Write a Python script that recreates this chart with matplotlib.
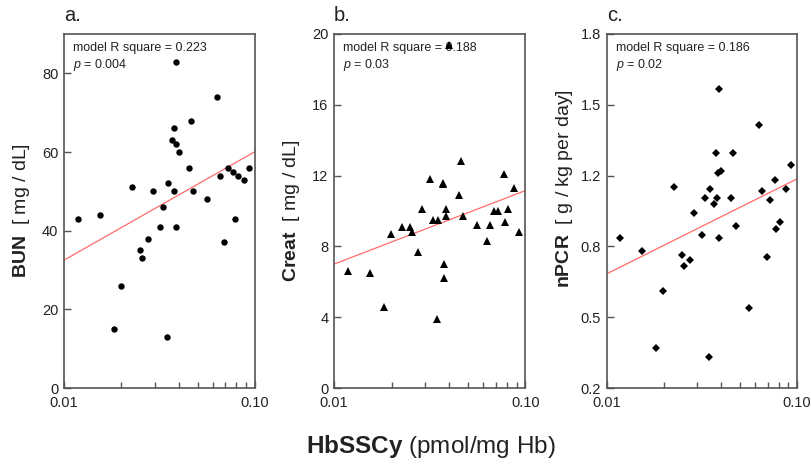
import numpy as np
import matplotlib
matplotlib.use("Agg")
import matplotlib.pyplot as plt
from matplotlib.ticker import FixedLocator, NullFormatter

plt.rcParams['font.family'] = ['Liberation Sans', 'DejaVu Sans']
plt.rcParams['mathtext.fontset'] = 'custom'
plt.rcParams['mathtext.rm'] = 'Liberation Sans'
plt.rcParams['mathtext.bf'] = 'Liberation Sans:bold'
plt.rcParams['mathtext.it'] = 'Liberation Sans:italic'

# ---------------- data ----------------
xa = [0.0118, 0.0154, 0.0226, 0.0291, 0.0352, 0.0330, 0.0375, 0.0369, 0.0385, 0.0387,
      0.0402, 0.0377, 0.0450, 0.0462, 0.0475, 0.0559, 0.0635, 0.0658, 0.0725, 0.0770,
      0.0812, 0.0876, 0.0934, 0.0783, 0.0319, 0.0387, 0.0274, 0.0251, 0.0255, 0.0691,
      0.0198, 0.0183, 0.0345]
ya = [43, 44, 51, 50, 52, 46, 66, 63, 62, 83,
      60, 50, 56, 68, 50, 48, 74, 54, 56, 55,
      54, 53, 56, 43, 41, 41, 38, 35, 33, 37,
      26, 15, 13]

xb = [0.0118, 0.0154, 0.0183, 0.0198, 0.0226, 0.0251, 0.0255, 0.0274, 0.0290, 0.0319,
      0.0329, 0.0344, 0.0351, 0.0370, 0.0373, 0.0377, 0.0377, 0.0386, 0.0386, 0.0450,
      0.0461, 0.0474, 0.0557, 0.0633, 0.0654, 0.0689, 0.0723, 0.0771, 0.0781, 0.0809,
      0.0870, 0.0924, 0.0399]
yb = [6.6, 6.5, 4.6, 8.7, 9.1, 9.1, 8.8, 7.7, 10.1, 11.8,
      9.5, 3.9, 9.5, 11.6, 11.5, 7.0, 6.2, 10.1, 9.7, 10.9,
      12.8, 9.7, 9.2, 8.3, 9.2, 10.0, 10.0, 12.1, 9.4, 10.1,
      11.3, 8.8, 19.4]

xc = [0.0117, 0.0153, 0.0182, 0.0198, 0.0226, 0.0250, 0.0255, 0.0273, 0.0289, 0.0318,
      0.0329, 0.0345, 0.0350, 0.0366, 0.0375, 0.0379, 0.0383, 0.0388, 0.0388, 0.0400,
      0.0450, 0.0461, 0.0478, 0.0558, 0.0632, 0.0657, 0.0693, 0.0721, 0.0769, 0.0778,
      0.0811, 0.0872, 0.0933]
yc = [0.88, 0.82, 0.38, 0.64, 1.11, 0.80, 0.75, 0.78, 0.99, 0.89,
      1.06, 0.34, 1.10, 1.03, 1.26, 1.06, 1.17, 1.55, 0.88, 1.18,
      1.06, 1.26, 0.93, 0.56, 1.39, 1.09, 0.79, 1.05, 1.14, 0.92,
      0.95, 1.10, 1.21]

fit_x = [0.01, 0.10]
fit_a = [32.5, 60.1]
fit_b = [7.0, 11.15]
fit_c = [0.716, 1.145]

yticks_a = [0, 20, 40, 60, 80]
yticks_b = [0, 4, 8, 12, 16, 20]
yticks_c = [0.2, 0.52, 0.84, 1.16, 1.48, 1.8]
yticklabels_c = ['0.2', '0.5', '0.8', '1.2', '1.5', '1.8']

panel_letters = ['a.', 'b.', 'c.']
ylabel_bold = ['BUN', 'Creat', 'nPCR']
ylabel_units = ['[ mg / dL]', '[ mg / dL]', '[ g / kg per day]']
r2_text = ['0.223', '0.188', '0.186']
p_text = ['0.004', '0.03', '0.02']
xlabel_bold = 'HbSSCy'
xlabel_rest = '(pmol/mg Hb)'

# ---------------- figure ----------------
W, H = 812, 466
fig = plt.figure(figsize=(W / 100, H / 100), dpi=100)

axes_px = [(64, 34, 191, 354), (334, 34, 191.3, 354), (606.7, 34, 190.3, 354)]
ylab_center_y = [211, 211, 189]
spine_col = '#555555'

panels = [
    (xa, ya, 'o', 4.6, fit_a, (0, 90), yticks_a, [str(v) for v in yticks_a]),
    (xb, yb, '^', 5.2, fit_b, (0, 20), yticks_b, [str(v) for v in yticks_b]),
    (xc, yc, 'D', 3.6, fit_c, (0.2, 1.8), yticks_c, yticklabels_c),
]

for i, (x, y, mk, ms, fit, ylim, yt, ytl) in enumerate(panels):
    l, t, w, h = axes_px[i]
    ax = fig.add_axes([l / W, (H - t - h) / H, w / W, h / H])
    ax.set_xscale('log')
    ax.set_xlim(0.01, 0.10)
    ax.set_ylim(*ylim)
    ax.plot(fit_x, fit, color='#ff6b6b', lw=0.9, zorder=2)
    ax.plot(x, y, linestyle='none', marker=mk, ms=ms, color='black',
            markeredgewidth=0, zorder=5, clip_on=False)
    ax.set_xticks([0.01, 0.1])
    ax.set_xticklabels(['0.01', '0.10'])
    ax.xaxis.set_minor_locator(FixedLocator([0.02, 0.03, 0.04, 0.05, 0.06, 0.07, 0.08, 0.09]))
    ax.xaxis.set_minor_formatter(NullFormatter())
    ax.set_yticks(yt)
    ax.set_yticklabels(ytl)
    ax.tick_params(axis='both', which='both', direction='in', colors=spine_col,
                   labelcolor='#222222', labelsize=10.5, width=1.0)
    ax.tick_params(axis='y', which='major', length=5, pad=4)
    ax.tick_params(axis='x', which='major', length=5, pad=6)
    ax.tick_params(axis='x', which='minor', length=4)
    for s in ax.spines.values():
        s.set_color(spine_col)
        s.set_linewidth(1.2)

    ax.annotate('model R square = ' + r2_text[i], xy=(0, 1), xycoords='axes fraction',
                xytext=(6.5, -6.0), textcoords='offset points', ha='left', va='top',
                fontsize=9, color='#222222', zorder=3)
    ax.annotate(r'$\mathit{p}$ = ' + p_text[i], xy=(0, 1), xycoords='axes fraction',
                xytext=(6.5, -16.5), textcoords='offset points', ha='left', va='top',
                fontsize=9, color='#222222', zorder=3)

    ax.text(0, 1.025, panel_letters[i], transform=ax.transAxes, ha='left', va='bottom',
            fontsize=14.5, color='#222222')

    fig.text((l - 42) / W, (H - ylab_center_y[i]) / H,
             r'$\mathbf{' + ylabel_bold[i] + r'}$  ' + ylabel_units[i],
             rotation=90, ha='center', va='center', fontsize=14, color='#222222')

fig.text(431 / W, (H - 446) / H, r'$\mathbf{' + xlabel_bold + r'}$ ' + xlabel_rest,
         ha='center', va='center', fontsize=17.5, color='#222222')

fig.savefig('out.png', dpi=100)
